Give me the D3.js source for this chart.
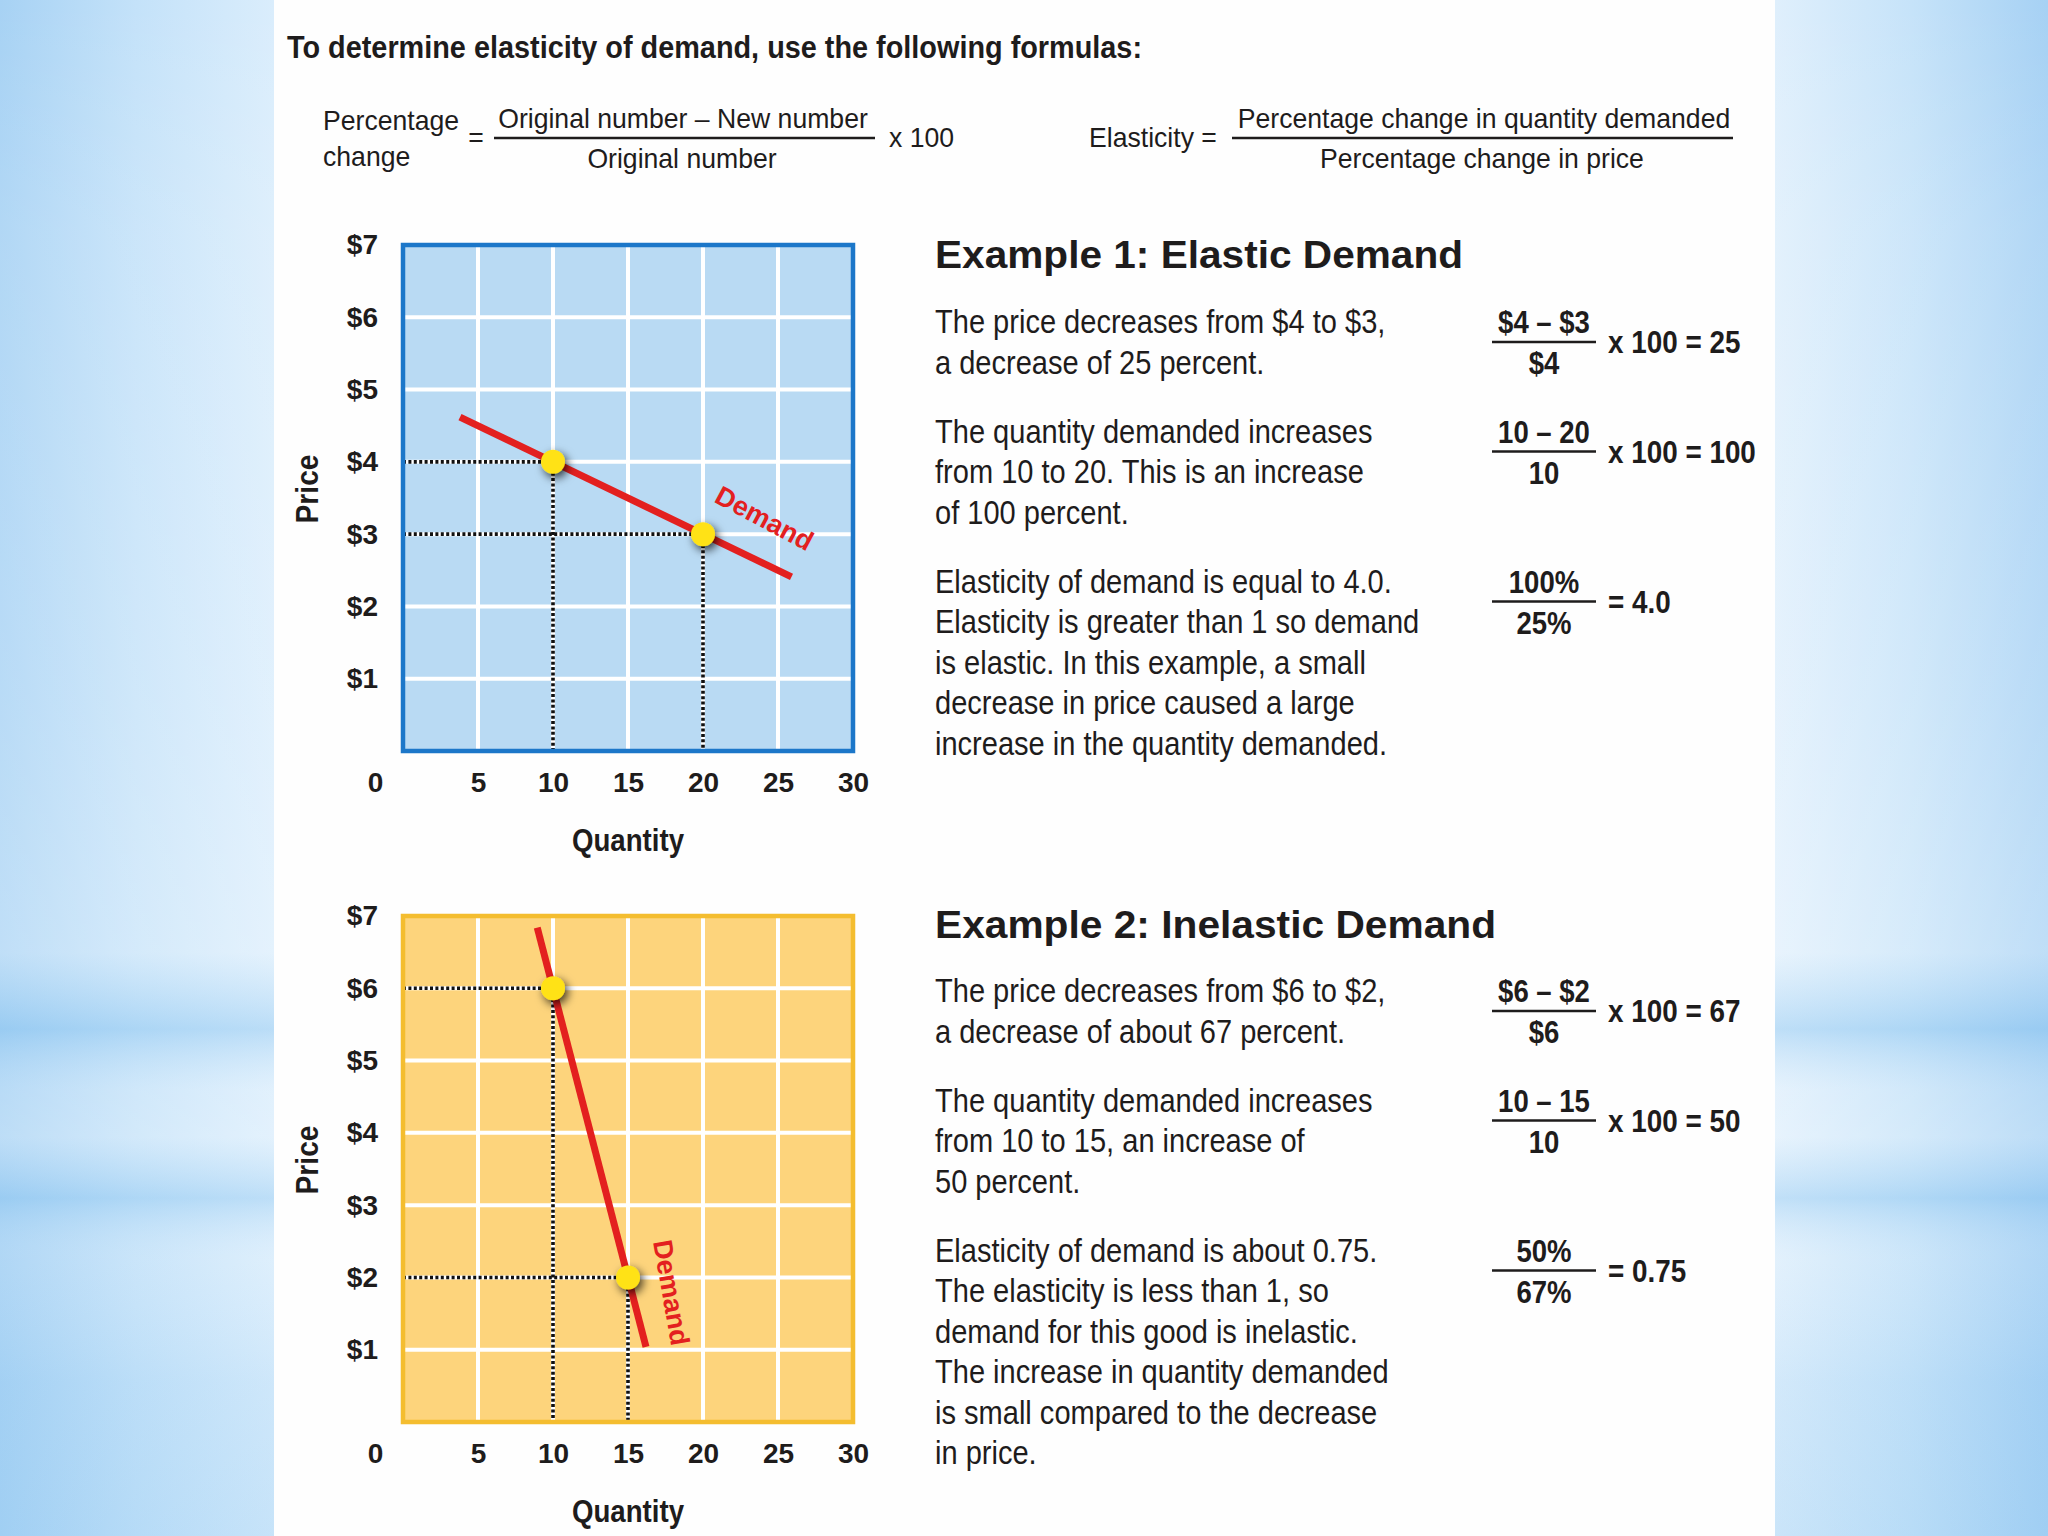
<!DOCTYPE html>
<html><head><meta charset="utf-8">
<script src="https://cdn.jsdelivr.net/npm/d3@7"></script>
<style>body{margin:0;background:#fff}svg{display:block}</style>
</head><body>
<script>
// ---------- data ----------
const priceTicks = [1, 2, 3, 4, 5, 6, 7];
const quantityTicks = [0, 5, 10, 15, 20, 25, 30];
const priceDomain = [0, 7];
const quantityDomain = [0, 30];

const elasticCurve = [{q: 3.8, p: 4.62}, {q: 25.9, p: 2.41}];
const elasticPoints = [{q: 10, p: 4}, {q: 20, p: 3}];
const inelasticCurve = [{q: 8.95, p: 6.84}, {q: 16.2, p: 1.04}];
const inelasticPoints = [{q: 10, p: 6}, {q: 15, p: 2}];

const titleText = "To determine elasticity of demand, use the following formulas:";
const pctLabel = ["Percentage", "change"];
const pctNumerator = "Original number \u2013 New number";
const pctDenominator = "Original number";
const elasLabel = "Elasticity =";
const elasNumerator = "Percentage change in quantity demanded";
const elasDenominator = "Percentage change in price";

const ex1Title = "Example 1: Elastic Demand";
const ex1Blocks = [
  ["The price decreases from $4 to $3,", "a decrease of 25 percent."],
  ["The quantity demanded increases", "from 10 to 20. This is an increase", "of 100 percent."],
  ["Elasticity of demand is equal to 4.0.", "Elasticity is greater than 1 so demand", "is elastic. In this example, a small", "decrease in price caused a large", "increase in the quantity demanded."]
];
const ex1Fractions = [
  {num: "$4 \u2013 $3", den: "$4", result: "x 100 = 25"},
  {num: "10 \u2013 20", den: "10", result: "x 100 = 100"},
  {num: "100%", den: "25%", result: "= 4.0"}
];
const ex2Title = "Example 2: Inelastic Demand";
const ex2Blocks = [
  ["The price decreases from $6 to $2,", "a decrease of about 67 percent."],
  ["The quantity demanded increases", "from 10 to 15, an increase of", "50 percent."],
  ["Elasticity of demand is about 0.75.", "The elasticity is less than 1, so", "demand for this good is inelastic.", "The increase in quantity demanded", "is small compared to the decrease", "in price."]
];
const ex2Fractions = [
  {num: "$6 \u2013 $2", den: "$6", result: "x 100 = 67"},
  {num: "10 \u2013 15", den: "10", result: "x 100 = 50"},
  {num: "50%", den: "67%", result: "= 0.75"}
];

// ---------- setup ----------
const W = 2048, H = 1536;
const FONT = "'Liberation Sans', Arial, Helvetica, sans-serif";
const INK = "#1e1c1c";
const svg = d3.select("body").append("svg").attr("width", W).attr("height", H)
  .style("font-family", FONT);
const defs = svg.append("defs");

function grad(id, x2, y2, stops) {
  const g = defs.append("linearGradient").attr("id", id)
    .attr("x1", 0).attr("y1", 0).attr("x2", x2).attr("y2", y2);
  stops.forEach(s => g.append("stop").attr("offset", s[0]).attr("stop-color", s[1]).attr("stop-opacity", s[2] == null ? 1 : s[2]));
}
grad("bgL", 1, 0, [[0, "#a7d2f4"], [0.5, "#c4e2f9"], [1, "#daedfc"]]);
grad("bgR", 1, 0, [[0, "#dfeffc"], [0.5, "#c6e3f9"], [1, "#a6d1f4"]]);
grad("bands", 0, 1, [
  [0, "#ffffff", 0.0], [0.15, "#ffffff", 0.12], [0.45, "#ffffff", 0.2],
  [0.62, "#ffffff", 0.28], [0.67, "#7fbfee", 0.35], [0.71, "#ffffff", 0.2],
  [0.74, "#ffffff", 0.25], [0.78, "#7fbfee", 0.32], [0.82, "#ffffff", 0.1],
  [0.9, "#8cc6f0", 0.15], [1, "#8cc6f0", 0.25]
]);
const sh = defs.append("filter").attr("id", "dotShadow").attr("x", "-100%").attr("y", "-100%").attr("width", "300%").attr("height", "300%");
sh.append("feDropShadow").attr("dx", 3).attr("dy", 4).attr("stdDeviation", 5)
  .attr("flood-color", "#000").attr("flood-opacity", 0.75);

// background
svg.append("rect").attr("x", 0).attr("y", 0).attr("width", 274).attr("height", H).attr("fill", "url(#bgL)");
svg.append("rect").attr("x", 1775).attr("y", 0).attr("width", W - 1775).attr("height", H).attr("fill", "url(#bgR)");
svg.append("rect").attr("x", 0).attr("y", 0).attr("width", 274).attr("height", H).attr("fill", "url(#bands)");
svg.append("rect").attr("x", 1775).attr("y", 0).attr("width", W - 1775).attr("height", H).attr("fill", "url(#bands)");
svg.append("rect").attr("x", 274).attr("y", 0).attr("width", 1501).attr("height", H).attr("fill", "#fefefe");

// text helpers
function condense(sel, k) {
  sel.each(function () {
    const L = this.getComputedTextLength();
    d3.select(this).attr("textLength", L * k).attr("lengthAdjust", "spacingAndGlyphs");
  });
  return sel;
}
function fit(sel, w) { return sel.attr("textLength", w).attr("lengthAdjust", "spacingAndGlyphs"); }
function txt(x, y, s, size, weight, anchor) {
  return svg.append("text").attr("x", x).attr("y", y).text(s)
    .attr("font-size", size).attr("font-weight", weight || "normal")
    .attr("text-anchor", anchor || "start").attr("fill", INK);
}

// ---------- top formulas ----------
fit(txt(287, 58, titleText, 32, "bold"), 855);
const K1 = 0.95, F1 = 28;
condense(txt(323, 130, pctLabel[0], F1), K1);
condense(txt(323, 166, pctLabel[1], F1), K1);
condense(txt(476, 147, "=", F1, "normal", "middle"), K1);
condense(txt(683, 128, pctNumerator, F1, "normal", "middle"), K1);
svg.append("line").attr("x1", 494).attr("x2", 875).attr("y1", 138).attr("y2", 138).attr("stroke", INK).attr("stroke-width", 2.5);
condense(txt(682, 168, pctDenominator, F1, "normal", "middle"), K1);
condense(txt(889, 147, "x 100", F1), K1);
condense(txt(1089, 147, elasLabel, F1), K1);
condense(txt(1484, 128, elasNumerator, F1, "normal", "middle"), K1);
svg.append("line").attr("x1", 1232).attr("x2", 1733).attr("y1", 138).attr("y2", 138).attr("stroke", INK).attr("stroke-width", 2.5);
condense(txt(1482, 168, elasDenominator, F1, "normal", "middle"), K1);

// ---------- examples text ----------
function example(title, titleW, blocks, fractions, headBase, firstBase) {
  fit(txt(935, headBase, title, 39, "bold"), titleW);
  let y = firstBase;
  blocks.forEach((lines, bi) => {
    lines.forEach((l, li) => condense(txt(935, y + li * 40.5, l, 33), 0.88));
    const f = fractions[bi];
    condense(txt(1544, y, f.num, 32, "bold", "middle"), 0.86);
    svg.append("line").attr("x1", 1492).attr("x2", 1596).attr("y1", y + 9).attr("y2", y + 9)
      .attr("stroke", INK).attr("stroke-width", 2.5);
    condense(txt(1544, y + 41, f.den, 32, "bold", "middle"), 0.86);
    condense(txt(1608, y + 20, f.result, 32, "bold"), 0.87);
    y += lines.length * 40.5 + 28.5;
  });
}
example(ex1Title, 528, ex1Blocks, ex1Fractions, 268, 333);
example(ex2Title, 561, ex2Blocks, ex2Fractions, 938, 1002);

// ---------- charts ----------
function chart(top, fill, border, curve, points, label) {
  const left = 403, w = 450, h = 506;
  const x = d3.scaleLinear().domain(quantityDomain).range([0, w]);
  const y = d3.scaleLinear().domain(priceDomain).range([h, 0]);
  const g = svg.append("g").attr("transform", `translate(${left},${top})`);
  g.append("rect").attr("width", w).attr("height", h).attr("fill", fill);
  // grid
  g.selectAll(".vg").data(quantityTicks.filter(d => d > 0 && d < 30)).join("line")
    .attr("x1", d => x(d)).attr("x2", d => x(d)).attr("y1", 0).attr("y2", h)
    .attr("stroke", "#fff").attr("stroke-width", 4);
  g.selectAll(".hg").data(priceTicks.filter(d => d < 7)).join("line")
    .attr("y1", d => y(d)).attr("y2", d => y(d)).attr("x1", 0).attr("x2", w)
    .attr("stroke", "#fff").attr("stroke-width", 4);
  // dotted guides
  const dot = {stroke: "#111", "stroke-width": 3.6, "stroke-dasharray": "3,2.4"};
  points.forEach(p => {
    const hl = g.append("line").attr("x1", x(0)).attr("x2", x(p.q)).attr("y1", y(p.p)).attr("y2", y(p.p));
    const vl = g.append("line").attr("x1", x(p.q)).attr("x2", x(p.q)).attr("y1", y(p.p)).attr("y2", y(0));
    [hl, vl].forEach(l => Object.entries(dot).forEach(([k, v]) => l.attr(k, v)));
  });
  // demand curve
  g.append("path").datum(curve)
    .attr("d", d3.line().x(d => x(d.q)).y(d => y(d.p)))
    .attr("fill", "none").attr("stroke", "#e3201f").attr("stroke-width", 7);
  // points
  g.selectAll(".pt").data(points).join("circle")
    .attr("cx", d => x(d.q)).attr("cy", d => y(d.p)).attr("r", 12)
    .attr("fill", "#ffe214").attr("filter", "url(#dotShadow)");
  // border
  g.append("rect").attr("width", w).attr("height", h).attr("fill", "none")
    .attr("stroke", border).attr("stroke-width", 4.5);
  // label
  g.append("text").attr("transform", `translate(${x(label.q)},${y(label.p)}) rotate(${label.rot})`)
    .attr("text-anchor", "middle").attr("dy", "0.35em")
    .attr("font-size", 27).attr("font-weight", "bold").attr("fill", "#e3201f")
    .text("Demand");
  // axes
  const ya = g.append("g").call(d3.axisLeft(y).tickValues(priceTicks).tickFormat(d => "$" + d).tickSize(0).tickPadding(25));
  const xa = g.append("g").attr("transform", `translate(0,${h})`)
    .call(d3.axisBottom(x).tickValues(quantityTicks).tickSize(0).tickPadding(21));
  [ya, xa].forEach(a => {
    a.select(".domain").remove();
    a.selectAll("text").attr("font-size", 28).attr("font-weight", "bold")
      .attr("font-family", FONT).attr("fill", INK);
  });
  xa.selectAll(".tick").filter(d => d === 0).select("text").attr("x", -28);
  // axis titles
  fit(g.append("text").attr("transform", `translate(-96,${h / 2 - 9}) rotate(-90)`)
    .attr("text-anchor", "middle").attr("dy", "0.35em")
    .attr("font-size", 32).attr("font-weight", "bold").attr("fill", INK).text("Price"), 69);
  fit(g.append("text").attr("x", w / 2 + 0).attr("y", h + 89).attr("dy", "0.35em")
    .attr("text-anchor", "middle")
    .attr("font-size", 32).attr("font-weight", "bold").attr("fill", INK).text("Quantity"), 112);
}
chart(245, "#b9daf3", "#1c77c9", elasticCurve, elasticPoints, {q: 24.1, p: 3.22, rot: 28});
chart(916, "#fdd47c", "#f4bd2f", inelasticCurve, inelasticPoints, {q: 17.9, p: 1.79, rot: 80});
</script>
</body></html>
